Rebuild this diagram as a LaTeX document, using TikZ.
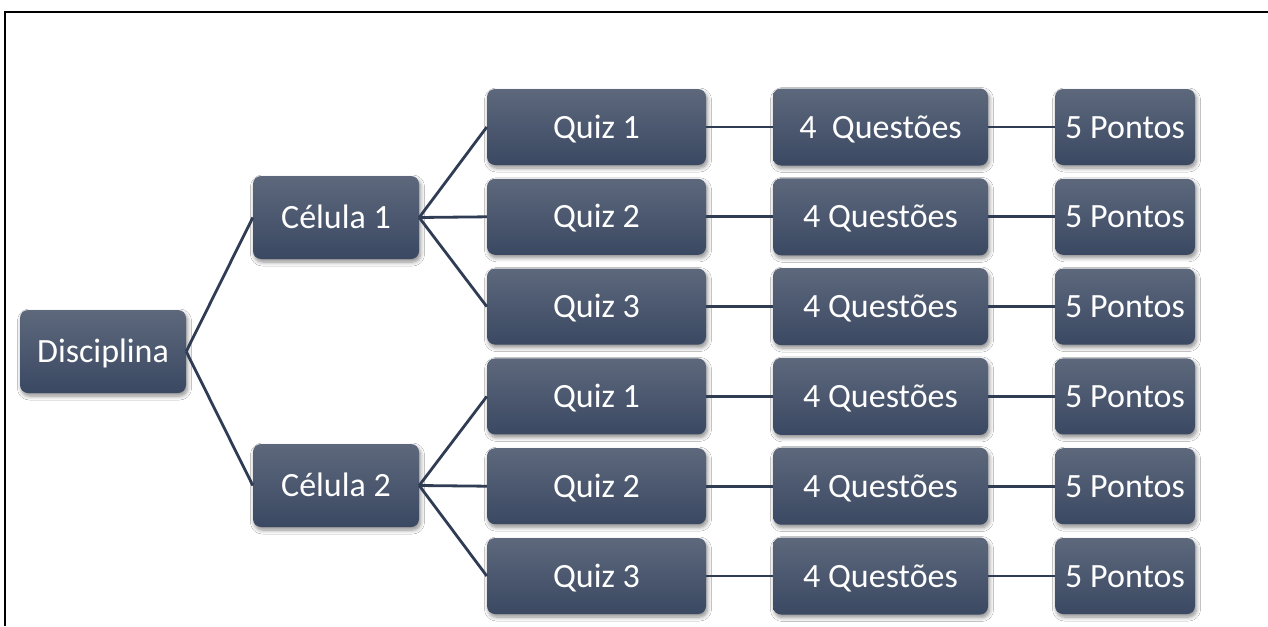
\documentclass[tikz,border=0pt]{standalone}
\usepackage{fontspec}
\setmainfont{Carlito}
\usetikzlibrary{shadows.blur}
\definecolor{boxtop}{RGB}{93,104,124}
\definecolor{boxbot}{RGB}{58,72,98}
\definecolor{linkc}{RGB}{47,60,84}
\tikzset{
  box/.style={rounded corners=8pt, top color=boxtop, bottom color=boxbot,
    draw=none, inner sep=0pt, text=white, text height=22pt, text depth=0pt,
    font=\fontsize{34}{40}\selectfont,
    blur shadow={shadow xshift=1.5pt, shadow yshift=-3pt, shadow blur steps=6, shadow blur radius=4pt, shadow opacity=45}},
  widebox/.style={box, minimum width=166pt, minimum height=83pt},
  quizbox/.style={box, minimum width=219pt, minimum height=76pt},
  qbox/.style={box, minimum width=215pt, minimum height=77pt},
  pbox/.style={box, minimum width=140pt, minimum height=76pt},
  link/.style={draw=linkc, line width=2.8pt},
  frameline/.style={draw=black, line width=2pt}
}
\begin{document}
\begin{tikzpicture}[x=1pt, y=-1pt]
\useasboundingbox (0,0) rectangle (1268,626);
\fill[white] (0,0) rectangle (1268,626);
\coordinate (ftop) at (1268,12);
\coordinate (fcorner) at (5,12);
\coordinate (fbot) at (5,626);
\draw[frameline] (ftop) -- (fcorner) -- (fbot);

\node[widebox] (disc) at (103,351.5) {Disciplina};
\node[widebox] (cel1) at (336,217.5) {Célula 1};
\node[widebox] (cel2) at (336,485.5) {Célula 2};

\foreach \i/\y/\t/\q in {1/127/Quiz 1/4~~Questões, 2/216.8/Quiz 2/4 Questões, 3/306.6/Quiz 3/4 Questões,
                         4/396.4/Quiz 1/4 Questões, 5/486.2/Quiz 2/4 Questões, 6/576/Quiz 3/4 Questões}{
  \node[quizbox] (quiz\i) at (596.5,\y) {\t};
  \node[qbox] (ques\i) at (880.5,\y) {\q};
  \node[pbox] (pts\i) at (1125,\y) {5 Pontos};
  \draw[link] (quiz\i.east) -- (ques\i.west);
  \draw[link] (ques\i.east) -- (pts\i.west);
}

\draw[link] (disc.east) -- (cel1.west);
\draw[link] (disc.east) -- (cel2.west);
\foreach \i in {1,2,3}{\draw[link] (cel1.east) -- (quiz\i.west);}
\foreach \i in {4,5,6}{\draw[link] (cel2.east) -- (quiz\i.west);}
\end{tikzpicture}
\end{document}
